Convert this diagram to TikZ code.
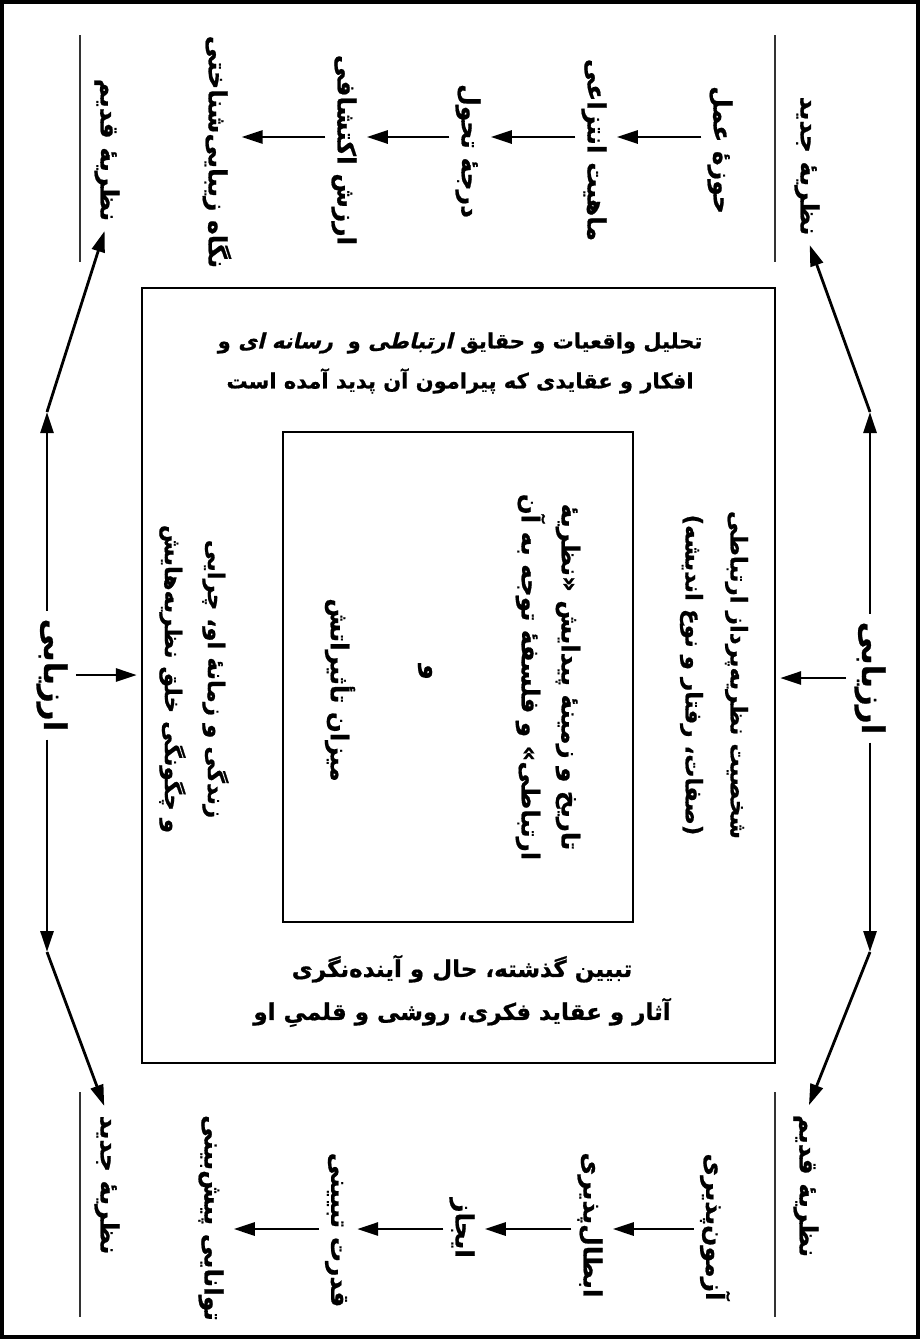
\documentclass[tikz,border=0pt]{standalone}
\usepackage{fontspec}
\usetikzlibrary{arrows.meta}
\TeXXeTstate=1
\newfontfamily\fa[Script=Arabic,BoldFeatures={FakeBold=0.8}]{DejaVu Sans}
\newfontfamily\fasl[Script=Arabic,FakeSlant=0.25,BoldFeatures={FakeSlant=0.25,FakeBold=0.8}]{DejaVu Sans}
\newcommand\rl[1]{\beginR #1\endR}
\newcommand\fsz[2]{\fontsize{#1}{#2}\selectfont}
\tikzset{
  lab/.style={rotate=-90, font=\fa\bfseries\fsz{25}{40}, inner sep=2pt, align=center},
  hz/.style={font=\fa\bfseries\fsz{21}{40}, inner sep=0pt, align=center},
  big/.style={rotate=-90, font=\fa\bfseries\fsz{31}{36}, inner sep=4pt},
  arr/.style={line width=2.8pt, -{Triangle[length=21pt,width=13pt]}, shorten <=4pt, shorten >=8pt},
  sep/.style={line width=1.3pt, black!80},
  box/.style={draw, inner sep=0pt}
}
\begin{document}
\begin{tikzpicture}[x=1pt,y=-1pt]
\useasboundingbox (0,0) rectangle (920,1339);
\draw[line width=3.5pt] (2,2) rectangle (918,1337);
% boxes
\node[box, line width=2.4pt, minimum width=633pt, minimum height=775pt] (mid) at (458.5,675.5) {};
\node[box, line width=1.8pt, minimum width=350pt, minimum height=490pt] (inner) at (458,677) {};
% separators
\draw[sep] (775,35) -- (775,262);
\draw[sep] (80,35) -- (80,262);
\draw[sep] (775,1092) -- (775,1317);
\draw[sep] (80,1092) -- (80,1317);
% top strip
\coordinate (rowT) at (0,137);
\node[lab] (jadidT) at (807,166) {\rl{نظریهٔ جدید}};
\node[lab] (howzeh) at (720,150) {\rl{حوزهٔ عمل}};
\node[lab] (mahiyat) at (594,150) {\rl{ماهیت انتزاعی}};
\node[lab] (daraje) at (468,151) {\rl{درجهٔ تحول}};
\node[lab] (arzesh) at (344,150) {\rl{ارزش اکتشافی}};
\node[lab] (negah) at (217,152) {\rl{نگاه زیبایی‌شناختی}};
\node[lab] (qadimT) at (107,150) {\rl{نظریهٔ قدیم}};
\draw[arr] (howzeh.south |- rowT) -- (mahiyat.north |- rowT);
\draw[arr] (mahiyat.south |- rowT) -- (daraje.north |- rowT);
\draw[arr] (daraje.south |- rowT) -- (arzesh.north |- rowT);
\draw[arr] (arzesh.south |- rowT) -- (negah.north |- rowT);
% bottom strip
\coordinate (rowB) at (0,1229);
\node[lab] (qadimB) at (806,1186) {\rl{نظریهٔ قدیم}};
\node[lab] (azmun) at (715,1227) {\rl{آزمون‌پذیری}};
\node[lab] (ebtal) at (590,1225) {\rl{ابطال‌پذیری}};
\node[lab] (ijaz) at (462,1228) {\rl{ایجاز}};
\node[lab] (qodrat) at (336,1230) {\rl{قدرت تبیینی}};
\node[lab] (tavan) at (211,1218) {\rl{توانایی پیش‌بینی}};
\node[lab] (jadidB) at (107,1185) {\rl{نظریهٔ جدید}};
\draw[arr] (azmun.south |- rowB) -- (ebtal.north |- rowB);
\draw[arr] (ebtal.south |- rowB) -- (ijaz.north |- rowB);
\draw[arr] (ijaz.south |- rowB) -- (qodrat.north |- rowB);
\draw[arr] (qodrat.south |- rowB) -- (tavan.north |- rowB);
% side evaluations
\node[big] (arzR) at (870,678) {\rl{ارزیابی}};
\node[big] (arzL) at (52,675) {\rl{ارزیابی}};
\coordinate (joinTR) at (870,412);
\coordinate (joinBR) at (870,952);
\coordinate (joinTL) at (47,412);
\coordinate (joinBL) at (47,952);
\draw[arr, shorten >=0pt] (arzR.west) -- (joinTR);
\draw[arr, shorten >=0pt] (arzR.east) -- (joinBR);
\draw[arr, shorten >=0pt] (arzL.west -| joinTL) -- (joinTL);
\draw[arr, shorten >=0pt] (arzL.east -| joinBL) -- (joinBL);
\draw[arr, shorten <=0pt] (joinTR) -- (jadidT.east);
\draw[arr, shorten <=0pt] (joinBR) -- (qadimB.west);
\draw[arr, shorten <=0pt] (joinTL) -- (qadimT.east);
\draw[arr, shorten <=0pt] (joinBL) -- (jadidB.west);
\draw[arr, shorten >=4pt] (arzR.south) -- (mid.east |- arzR.south);
\draw[arr, shorten >=4pt] (arzL.north) -- (mid.west |- arzL.north);
% texts in the middle box
\node[hz] (midTop) at (460,363) {\rl{تحلیل واقعیات و حقایق {\fasl ارتباطی} و\ \ {\fasl رسانه ای} و}\\\rl{افکار و عقایدی که پیرامون آن پدید آمده است}};
\node[hz, font=\fa\bfseries\fsz{23}{43}] (midBot) at (462,991) {\rl{تبیین گذشته، حال و آینده‌نگری}\\\rl{آثار و عقاید فکری، روشی و قلمیِ او}};
\node[lab, font=\fa\bfseries\fsz{23}{45}] (rightCol) at (714,675) {\rl{شخصیت نظریه‌پرداز ارتباطی}\\\rl{(صفات، رفتار و نوع اندیشه)}};
\node[lab, font=\fa\bfseries\fsz{23}{43}] (leftCol) at (194,679) {\rl{زندگی و زمانهٔ او، چرایی}\\\rl{و چگونگی خلق نظریه‌هایش}};
\node[lab, font=\fa\bfseries\fsz{24.5}{40}] (innerTxt) at (548,677) {\rl{تاریخ و زمینهٔ پیدایش «نظریهٔ}\\\rl{ارتباطی» و فلسفهٔ توجه به آن}};
\node[lab] (va) at (425,672) {\rl{و}};
\node[lab, font=\fa\bfseries\fsz{24.5}{40}] (mizan) at (340,690) {\rl{میزان تأثیراتش}};
\end{tikzpicture}
\end{document}
